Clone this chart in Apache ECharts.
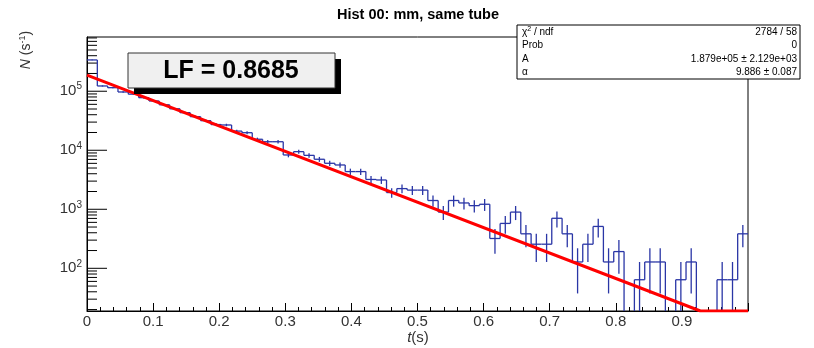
<!DOCTYPE html>
<html><head><meta charset="utf-8">
<script src="https://cdn.jsdelivr.net/npm/echarts@6/dist/echarts.min.js"></script>
<style>html,body{margin:0;padding:0;background:#fff}#c{width:814px;height:348px}</style>
</head><body><div id="c"></div>
<script>
// ---- data ----
const binWidth = 1 / 64;                 // 64 bins on [0,1]
const binCounts = [
  5300, 1919, 1795, 1518, 1395, 1216, 1069, 921,
  788, 678, 580, 496, 426, 419, 330, 310,
  240, 218, 218, 130, 148, 128, 110, 94,
  88, 68, 68, 50, 49, 30, 35, 33,
  33, 22, 14, 22, 20, 18, 19, 5,
  9, 14, 6, 4, 4, 11, 6, 2,
  4, 8, 2, 3, 0, 1, 2, 2,
  0, 1, 2, 0, 0, 1, 1, 6
];
const fitPoints = [[0, 187900], [0.928, 18.9], [1.0, 18.9]];
const xTickLabels = ['0', '0.1', '0.2', '0.3', '0.4', '0.5', '0.6', '0.7', '0.8', '0.9'];
const yDecadeExponents = [2, 3, 4, 5];
const statsLabels = ['χ{s|2} / ndf', 'Prob', 'A', 'α'];
const statsValues = ['2784 / 58', '0', '1.879e+05 ± 2.129e+03', '9.886 ± 0.087'];
const titleText = 'Hist 00: mm, same tube';
const lfText = 'LF = 0.8685';

const Y_MIN = 18.9, Y_MAX = 8.3e5;
const BLUE = '#2a36a6', RED = '#ff0000';
const FONT = 'Liberation Sans, Arial, sans-serif';

const clampY = v => Math.min(Math.max(v, Y_MIN), Y_MAX);
const rateOf = n => n / binWidth;

const histData = binCounts.map((n, i) => [(i + 0.5) * binWidth, clampY(rateOf(n)), i]);

const yTickData = [];
for (let e = 1; e <= 5; e++) {
  for (let m = 1; m <= 9; m++) {
    const v = m * Math.pow(10, e);
    if (v >= Y_MIN && v <= Y_MAX) yTickData.push([0, v, m === 1 ? 1 : 0]);
  }
}

function renderHist(params, api) {
  const i = api.value(2);
  const n = binCounts[i];
  const r = rateOf(n);
  const x0 = i * binWidth, x1 = (i + 1) * binWidth, xc = (i + 0.5) * binWidth;
  const style = { stroke: BLUE, lineWidth: 1.3, fill: null };
  const ch = [];
  if (n > 0) {
    const a = api.coord([x0, clampY(r)]), b = api.coord([x1, clampY(r)]);
    ch.push({ type: 'line', shape: { x1: a[0], y1: a[1], x2: b[0], y2: b[1] }, style });
    const err = Math.sqrt(n) / binWidth;
    const lo = r - err > 0 ? clampY(r - err) : Y_MIN;
    const hi = clampY(r + err);
    const p = api.coord([xc, lo]), q = api.coord([xc, hi]);
    ch.push({ type: 'line', shape: { x1: p[0], y1: p[1], x2: q[0], y2: q[1] }, style });
  }
  if (i > 0) {
    const pn = binCounts[i - 1];
    if (pn > 0 || n > 0) {
      const a = api.coord([x0, clampY(rateOf(pn))]), b = api.coord([x0, clampY(r)]);
      ch.push({ type: 'line', shape: { x1: a[0], y1: a[1], x2: b[0], y2: b[1] }, style });
    }
  }
  return { type: 'group', children: ch };
}

function renderYTicks(params, api) {
  const p = api.coord([0, api.value(1)]);
  const len = api.value(2) ? 20 : 10;
  return { type: 'line', shape: { x1: p[0], y1: p[1], x2: p[0] + len, y2: p[1] },
           style: { stroke: '#000', lineWidth: 1 } };
}

const chart = echarts.init(document.getElementById('c'), null, { renderer: 'canvas' });

const statsGraphics = [];
const SB = { x: 517, y: 25, w: 283, h: 54 };
statsGraphics.push({ type: 'rect', shape: { x: SB.x, y: SB.y, width: SB.w, height: SB.h },
  style: { fill: '#fff', stroke: '#000', lineWidth: 1 }, z: 100 });
statsLabels.forEach((t, k) => {
  const yy = SB.y + SB.h * (k + 0.5) / statsLabels.length;
  statsGraphics.push({ type: 'text', x: SB.x + 5, y: yy, z: 101,
    style: { text: t, font: '10px ' + FONT, fill: '#000', verticalAlign: 'middle', align: 'left',
      rich: { s: { fontSize: 7, verticalAlign: 'top', padding: [0, 0, 5, 0] } } } });
  statsGraphics.push({ type: 'text', x: SB.x + SB.w - 3, y: yy, z: 101,
    style: { text: statsValues[k], font: '10px ' + FONT, fill: '#000', verticalAlign: 'middle', align: 'right' } });
});

chart.setOption({
  animation: false,
  backgroundColor: '#fff',
  grid: { left: 87, right: 66, top: 37, bottom: 37, show: true, borderColor: '#000', borderWidth: 1, backgroundColor: 'transparent' },
  xAxis: {
    type: 'value', min: 0, max: 1, interval: 0.1,
    axisLine: { lineStyle: { color: '#000', width: 1 } },
    axisTick: { inside: true, length: 8, lineStyle: { color: '#000' } },
    minorTick: { show: true, splitNumber: 5, length: 4, lineStyle: { color: '#000' } },
    splitLine: { show: false },
    axisLabel: {
      margin: 3, fontSize: 15, fontFamily: FONT, color: '#333',
      formatter: v => { const k = Math.round(v * 10); return k < xTickLabels.length ? xTickLabels[k] : ''; }
    }
  },
  yAxis: {
    type: 'log', logBase: 10, min: Y_MIN, max: Y_MAX,
    axisLine: { show: true, lineStyle: { color: '#000', width: 1 } },
    axisTick: { show: false }, minorTick: { show: false }, splitLine: { show: false },
    axisLabel: {
      margin: 5, fontSize: 15, fontFamily: FONT, color: '#333', showMinLabel: false, showMaxLabel: false,
      formatter: v => {
        const e = Math.round(Math.log10(v));
        if (Math.abs(Math.log10(v) - e) < 1e-6 && yDecadeExponents.includes(e)) return '10{e|' + e + '}';
        return '';
      },
      rich: { e: { fontSize: 10, fontFamily: FONT, color: '#333', padding: [0, 0, 9, 0] } }
    }
  },
  series: [
    { type: 'custom', name: 'hist', renderItem: renderHist, data: histData, encode: { x: 0, y: 1 }, z: 3, silent: true },
    { type: 'line', name: 'fit', data: fitPoints, showSymbol: false, lineStyle: { color: RED, width: 3 }, z: 5, silent: true },
    { type: 'custom', name: 'yticks', renderItem: renderYTicks, data: yTickData, encode: { x: 0, y: 1 }, z: 2, silent: true }
  ],
  graphic: [
    { type: 'text', x: 418, y: 15, z: 100,
      style: { text: titleText, font: 'bold 14.5px ' + FONT, fill: '#000', align: 'center', verticalAlign: 'middle' } },
    { type: 'rect', shape: { x: 134, y: 59, width: 207, height: 35 }, style: { fill: '#000' }, z: 100 },
    { type: 'rect', shape: { x: 128, y: 53, width: 207, height: 35 }, style: { fill: '#f0f0f0', stroke: '#333', lineWidth: 1 }, z: 101 },
    { type: 'text', x: 231, y: 71, z: 102,
      style: { text: lfText, font: 'bold 25px ' + FONT, fill: '#000', align: 'center', verticalAlign: 'middle' } },
    { type: 'text', x: 26, y: 50, rotation: Math.PI / 2, z: 100,
      style: { text: '{i|N} (s{s|-1})', font: '14px ' + FONT, fill: '#333', align: 'center', verticalAlign: 'middle',
        rich: { i: { fontStyle: 'italic', fontSize: 14, fontFamily: FONT }, s: { fontSize: 9, padding: [0, 0, 7, 0] } } } },
    { type: 'text', x: 418, y: 338, z: 100,
      style: { text: '{i|t}(s)', font: '15px ' + FONT, fill: '#333', align: 'center', verticalAlign: 'middle',
        rich: { i: { fontStyle: 'italic', fontSize: 15, fontFamily: FONT } } } },
    ...statsGraphics
  ]
});
</script></body></html>
